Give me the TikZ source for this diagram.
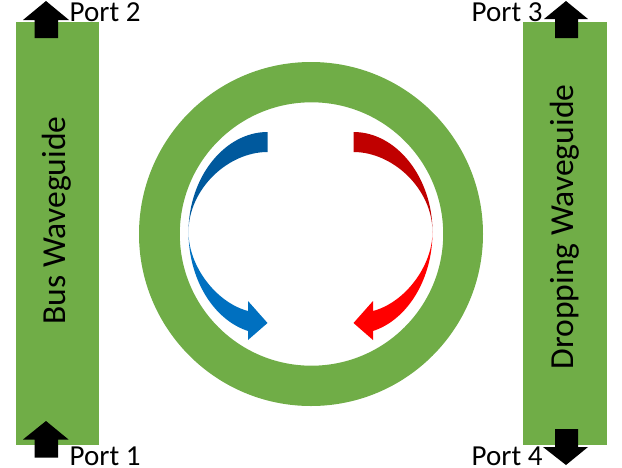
\documentclass[tikz,border=0pt]{standalone}
\usepackage{fontspec}
\setmainfont{Carlito}
\definecolor{wgreen}{HTML}{70AD47}
\definecolor{bluedark}{HTML}{00599D}
\definecolor{bluelight}{HTML}{0070C0}
\definecolor{reddark}{HTML}{C00000}
\definecolor{redlight}{HTML}{FF0000}
\tikzset{
  guide/.style={fill=wgreen,draw=none},
  porthead/.style={fill=black,draw=none},
  portlabel/.style={inner sep=0pt,anchor=west,font=\fontsize{29}{31}\selectfont},
  guidelabel/.style={inner sep=0pt,rotate=90,font=\fontsize{33.6}{35}\selectfont}
}
\newcommand{\ringarrow}[2]{%
  \fill[#1] (267.5,132) .. controls (225,132) and (188.5,176.8) .. (188.5,232)
    .. controls (188.5,189) and (228,152) .. (267.5,152) -- cycle;
  \fill[#2] (188.5,232) .. controls (188.5,266) and (216,302.5) .. (248,311)
    -- (248,301) -- (267.5,323) -- (248,340) -- (248,331)
    .. controls (213,319.5) and (188.5,278.6) .. (188.5,232) -- cycle;
}
\begin{document}
\begin{tikzpicture}[x=1pt,y=-1pt]
\useasboundingbox (0,0) rectangle (622,467);
% waveguides
\fill[guide] (15.5,22) rectangle (99,445);
\fill[guide] (522.7,22) rectangle (607,445);
% ring
\fill[wgreen,even odd rule] (311,234) circle[radius=172pt] (311.5,234) circle[radius=131.7pt];
% ring arrows
\ringarrow{bluedark}{bluelight}
\begin{scope}[xshift=621pt,xscale=-1]
\ringarrow{reddark}{redlight}
\end{scope}
% port arrows
\fill[porthead] (46,1) -- (69,20) -- (58,20) -- (58,38) -- (34.5,38) -- (34.5,20) -- (23,20) -- cycle;
\fill[porthead] (46,421) -- (68.5,439.5) -- (58,439.5) -- (58,457.7) -- (34.5,457.7) -- (34.5,439.5) -- (23,439.5) -- cycle;
\fill[porthead] (566,1) -- (588,19) -- (578,19) -- (578,38) -- (555,38) -- (555,19) -- (544,19) -- cycle;
\fill[porthead] (566,465) -- (588,447) -- (578,447) -- (578,429) -- (555,429) -- (555,447) -- (543,447) -- cycle;
% labels
\node[portlabel] (p2) at (69.5,11.7) {Port 2};
\node[portlabel] (p1) at (69.5,456.5) {Port 1};
\node[portlabel] (p3) at (471.5,11.7) {Port 3};
\node[portlabel] (p4) at (471.5,456.5) {Port 4};
\node[guidelabel] (bus) at (57,220.5) {Bus Waveguide};
\node[guidelabel] (drop) at (565,227) {Dropping Waveguide};
\end{tikzpicture}
\end{document}
